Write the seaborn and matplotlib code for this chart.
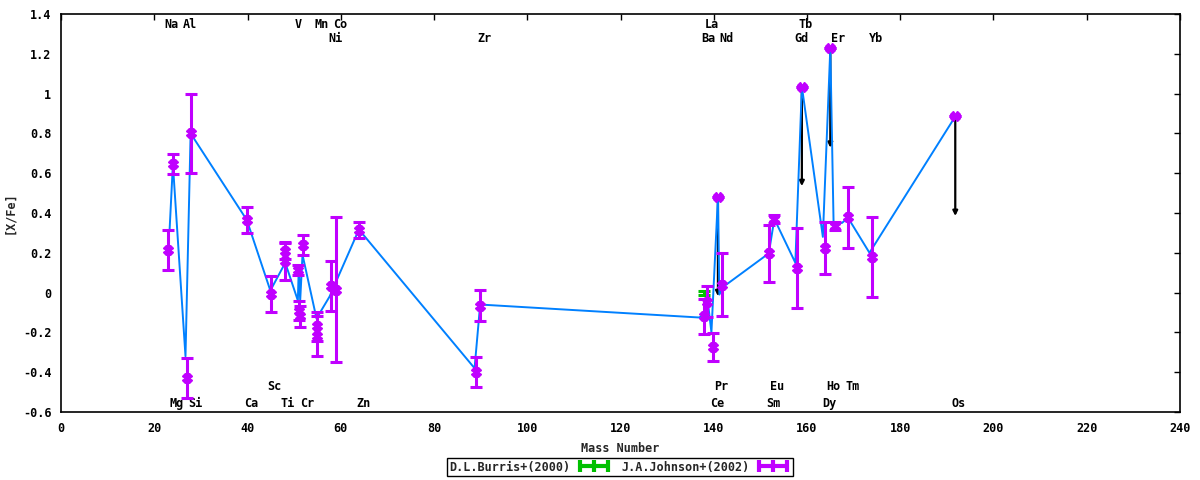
import matplotlib
matplotlib.use("Agg")
import matplotlib.pyplot as plt
from matplotlib.lines import Line2D
from matplotlib.ticker import FuncFormatter, MultipleLocator
import seaborn as sns

# J.A.Johnson+(2002) points with symmetric error bars
john_x = [22.9, 24.0, 27.0, 27.8, 39.85, 45.0, 48.0, 48.1, 50.9, 51.1, 51.3, 51.9,
          54.9, 54.9, 57.9, 59.0, 63.9, 89.0, 89.9, 137.9, 138.6, 139.8, 140.9,
          141.7, 151.8, 153.0, 157.9, 158.9, 163.9, 165.0, 165.9, 168.8, 174.0, 191.8]
john_y = [0.215, 0.645, -0.428, 0.80, 0.367, -0.005, 0.21, 0.16, 0.115, -0.09, -0.12,
          0.238, -0.17, -0.22, 0.035, 0.015, 0.315, -0.40, -0.065, -0.12, -0.045,
          -0.275, 0.482, 0.04, 0.197, 0.368, 0.125, 1.035, 0.225, 1.228, 0.336,
          0.378, 0.18, 0.885]
john_err = [0.1, 0.05, 0.1, 0.2, 0.065, 0.09, 0.04, 0.095, 0.025, 0.05, 0.055, 0.05,
            0.075, 0.1, 0.125, 0.365, 0.04, 0.075, 0.08, 0.09, 0.08, 0.07, 0.0,
            0.158, 0.143, 0.02, 0.2, 0.0, 0.13, 0.0, 0.02, 0.155, 0.2, 0.0]

# D.L.Burris+(2000)
burris_x = [137.9]
burris_y = [0.0]
burris_err = [0.01]

# connecting line
line_x = [23.3, 24.0, 26.7, 27.8, 39.85, 44.9, 48.1, 50.8, 51.0, 51.3, 51.8, 54.8,
          57.6, 58.9, 63.9, 88.7, 89.9, 136.8, 138.4, 138.5, 139.5, 140.9, 141.2,
          142.1, 151.8, 153.0, 157.5, 158.9, 163.4, 165.0, 165.7, 167.5, 168.8,
          173.4, 191.8]
line_y = [0.32, 0.645, -0.32, 0.80, 0.365, 0.01, 0.15, -0.04, 0.13, -0.04, 0.19,
          -0.13, -0.02, 0.05, 0.317, -0.38, -0.06, -0.125, -0.11, 0.0, -0.2, 0.482,
          -0.01, 0.03, 0.197, 0.37, 0.15, 1.035, 0.28, 1.228, 0.35, 0.35, 0.376,
          0.2, 0.885]

# upper limits (arrows)
limit_x = [140.9, 158.9, 165.0, 191.8]
limit_top = [0.482, 1.035, 1.228, 0.885]
limit_bottom = [-0.018, 0.535, 0.728, 0.385]

# element labels: (name, x, y)
elem_names = ["Na", "Al", "V", "Mn", "Co", "La", "Tb",
              "Ni", "Zr", "Ba", "Nd", "Gd", "Er", "Yb",
              "Sc", "Pr", "Eu", "Ho", "Tm",
              "Mg", "Si", "Ca", "Ti", "Cr", "Zn", "Ce", "Sm", "Dy", "Os"]
elem_x = [23.8, 27.7, 50.9, 55.8, 59.9, 139.7, 159.7,
          58.8, 90.8, 138.8, 142.7, 158.8, 166.7, 174.7,
          45.7, 141.6, 153.6, 165.7, 169.7,
          24.7, 28.8, 40.8, 48.7, 52.8, 64.8, 140.7, 152.8, 164.8, 192.5]
elem_y = [1.345] * 7 + [1.279] * 7 + [-0.474] * 5 + [-0.555] * 10

GREEN = "#00c000"
BLUE = "#0080ff"
MAGENTA = "#c000ff"

sns.set_style("white")
plt.rcParams["font.family"] = ["DejaVu Sans Mono"]
plt.rcParams["font.weight"] = "bold"
plt.rcParams["font.size"] = 8.5

fig = plt.figure(figsize=(12, 4.8), dpi=100)
ax = fig.add_axes([61 / 1200, 1 - 412 / 480, 1119 / 1200, 398 / 480])

# upper-limit arrows sit under the line
for x, t, b in zip(limit_x, limit_top, limit_bottom):
    ax.annotate("", xy=(x, b), xytext=(x, t),
                arrowprops=dict(arrowstyle="-|>", color="black", lw=1.6,
                                mutation_scale=7, shrinkA=0, shrinkB=0),
                zorder=1)

sns.lineplot(x=line_x, y=line_y, sort=False, estimator=None, color=BLUE,
             linewidth=1.4, ax=ax, zorder=2)

ax.errorbar(burris_x, burris_y, yerr=burris_err, fmt="none", ecolor=GREEN,
            elinewidth=2.2, capsize=4, capthick=2.2, zorder=3)
ax.errorbar(john_x, john_y, yerr=john_err, fmt="X", color=MAGENTA, ms=6.5,
            mec=MAGENTA, ecolor=MAGENTA, elinewidth=2.2, capsize=4, capthick=2.2,
            zorder=4)

for name, x, y in zip(elem_names, elem_x, elem_y):
    ax.text(x, y, name, ha="center", va="center", fontsize=8.5,
            fontweight="bold", color="black")

ax.set_xlim(0, 240)
ax.set_ylim(-0.6, 1.4)
ax.xaxis.set_major_locator(MultipleLocator(20))
ax.yaxis.set_major_locator(MultipleLocator(0.2))
ax.yaxis.set_major_formatter(FuncFormatter(lambda v, p: f"{round(v, 1):g}"))
ax.tick_params(direction="in", length=4, width=1, top=True, right=True,
               labelsize=8.5, pad=7, colors="black")
for s in ax.spines.values():
    s.set_color("black")
    s.set_linewidth(1.2)

ax.set_xlabel("Mass Number", fontsize=8.5, fontweight="bold", labelpad=5)
ax.set_ylabel("[X/Fe]", fontsize=8.5, fontweight="bold", labelpad=5)

handles = [
    Line2D([0], [0], color=GREEN, lw=3, marker="|", ms=9, mew=3),
    Line2D([0], [0], color=MAGENTA, lw=3, marker="|", ms=9, mew=3),
]
fig.legend(handles, ["D.L.Burris+(2000)", "J.A.Johnson+(2002)"],
           loc="center", bbox_to_anchor=(620 / 1200, 1 - 467 / 480), ncol=2,
           numpoints=3, markerfirst=False, frameon=True, fancybox=False,
           edgecolor="black", framealpha=1, borderpad=0.2, handlelength=3.0,
           handletextpad=0.5, columnspacing=0.8, fontsize=8.5)

fig.savefig("out.png", dpi=100)
